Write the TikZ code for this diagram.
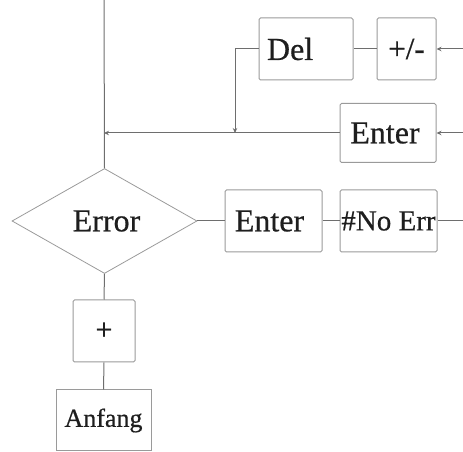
\documentclass[tikz,border=0pt]{standalone}
\usepackage{fontspec}
\newfontfamily\keyfont{Liberation Serif}[FakeBold=0.6]
\usetikzlibrary{shapes.geometric,arrows.meta}
\definecolor{boxline}{HTML}{9A9A9A}
\definecolor{wire}{HTML}{6E6E6E}
\definecolor{ink}{HTML}{1E1E1E}
\tikzset{
  x=1pt, y=1pt,
  keybox/.style={draw=boxline, line width=1pt, rounded corners=1.5pt, inner sep=0pt,
    text=ink, font=\keyfont\fontsize{32}{32}\selectfont},
  decision/.style={diamond, draw=boxline, line width=0.8pt, inner sep=0pt,
    minimum width=185, minimum height=105, text=ink, font=\keyfont\fontsize{32}{32}\selectfont},
  wireline/.style={draw=wire, line width=1pt},
  flow/.style={wireline, -{Stealth[length=5pt,width=4.5pt]}},
}
\begin{document}
\begin{tikzpicture}
\useasboundingbox (0,0) rectangle (463,452);

% keys and decision
\node[keybox, minimum width=94, minimum height=62, text width=78, align=left] (del) at (306,403) {Del};
\node[keybox, minimum width=59, minimum height=62, font=\keyfont\fontsize{31}{31}\selectfont] (sign) at (406.5,403) {+/-};
\node[keybox, minimum width=96, minimum height=59] (enterA) at (388,319) {\hspace*{-6pt}Enter};
\node[decision] (err) at (104.5,231) {\hspace*{4pt}Error};
\node[keybox, minimum width=97, minimum height=62] (enterB) at (273.5,231) {\hspace*{-8pt}Enter};
\node[keybox, minimum width=97, minimum height=62, font=\keyfont\fontsize{29}{29}\selectfont] (noerr) at (388.5,231) {\#No Err};
\node[keybox, minimum width=62, minimum height=62, font=\keyfont\fontsize{30}{30}\selectfont] (plus) at (104,121) {+};
\node[keybox, minimum width=95, minimum height=61, rounded corners=0pt,
      font=\keyfont\fontsize{26}{26}\selectfont] (start) at (103.5,31.5) {Anfang};

% loose ends and junctions
\coordinate (top) at (104,452);
\coordinate (join) at (104,319);
\coordinate (drop) at (235,319);
\coordinate (inA) at (463,403);
\coordinate (inB) at (463,319);
\coordinate (outC) at (463,231);

% main trunk
\draw[wireline] (top) -- (err.north);
\draw[wireline] (err.south) -- (plus.north);
\draw[wireline] (plus.south) -- (start.north);

% upper branch
\draw[flow] (inA) -- (sign.east);
\draw[wireline] (sign.west) -- (del.east);
\draw[flow] (del.west) -| (drop);
\draw[flow] (inB) -- (enterA.east);
\draw[flow] (enterA.west) -- (join);

% error branch
\draw[wireline] (err.east) -- (enterB.west);
\draw[wireline] (enterB.east) -- (noerr.west);
\draw[wireline] (noerr.east) -- (outC);
\end{tikzpicture}
\end{document}
